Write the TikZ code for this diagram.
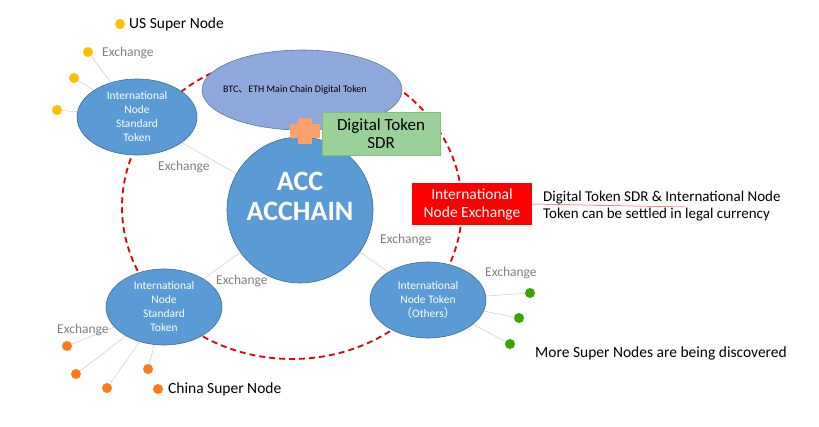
\documentclass[tikz,border=0pt]{standalone}
\usepackage{fontspec}
\setmainfont{Carlito}
\newfontfamily\cjk{Noto Sans CJK SC}
\begin{document}
\begin{tikzpicture}[x=1pt,y=-1pt,
  link/.style={draw=gray!40,line width=0.5pt},
  ex/.style={text=gray,font=\fontsize{13.5}{15}\selectfont,inner sep=0pt},
  wt/.style={text=white,align=center,font=\fontsize{11.5}{14}\selectfont},
  ydot/.style={circle,fill=orange!50!yellow,inner sep=0pt,minimum size=10pt},
  odot/.style={circle,fill=orange!85!red!90!white,inner sep=0pt,minimum size=10pt},
  gdot/.style={circle,fill=green!50!black!70!lime,inner sep=0pt,minimum size=10pt}]
\useasboundingbox[fill=white] (0,0) rectangle (819,426);
\definecolor{bl}{HTML}{5B9BD5}
\definecolor{pb}{HTML}{8EA9DB}
\tikzset{blob/.style={draw=bl!70!black,fill=bl,line width=0.6pt}}
% dashed circle
\draw[red!90!black,line width=1.8pt,dash pattern=on 6pt off 4pt] (292,207) ellipse[x radius=170,y radius=152];
% nodes
\coordinate (acc) at (300,210);
\coordinate (tl) at (137,117);
\coordinate (bl) at (164,307);
\coordinate (r) at (428,300);
\draw[link] (acc) -- (tl); \draw[link] (acc) -- (bl); \draw[link] (acc) -- (r);
\node[ydot] (y1) at (88,52) {}; \node[ydot] (y2) at (74,78) {}; \node[ydot] (y3) at (57,110) {};
\node[ydot] (y0) at (120,24) {};
\foreach \d in {y1,y2,y3} \draw[link] (\d) -- (tl);
\node[odot] (o1) at (67,346) {}; \node[odot] (o2) at (76,374) {}; \node[odot] (o3) at (107,388) {}; \node[odot] (o4) at (148,369) {}; \node[odot] (o5) at (158,389) {};
\foreach \d in {o1,o2,o3,o4} \draw[link] (\d) -- (bl);
\node[gdot] (g1) at (530,293) {}; \node[gdot] (g2) at (519,318) {}; \node[gdot] (g3) at (510,344) {};
\foreach \d in {g1,g2,g3} \draw[link] (\d) -- (r);
% ellipses
\draw[fill=pb,draw=pb!70!black,line width=0.6pt] (302,90) ellipse[x radius=100,y radius=40];
\node[font=\fontsize{10}{12}\selectfont] (btc) at (295,90) {BTC{\cjk 、}ETH Main Chain Digital Token};
\draw[blob] (acc) circle[radius=73];
\node[text=white,font=\bfseries\fontsize{28}{30}\selectfont,align=center] (acct) at (300,196) {ACC\\ACCHAIN};
\draw[blob] (tl) ellipse[x radius=60,y radius=38];
\node[wt] (tlt) at (tl) {International\\Node\\Standard\\Token};
\draw[blob] (bl) ellipse[x radius=58,y radius=38];
\node[wt] (blt) at (bl) {International\\Node\\Standard\\Token};
\draw[blob] (r) ellipse[x radius=58,y radius=38];
\node[wt] (rt) at (r) {International\\Node Token\\{\cjk （}Others{\cjk ）}};
% plus
\fill[orange!45!pink] (298,118) rectangle (312,144);
\fill[orange!45!pink] (290,124) rectangle (320,138);
% green box
\node[draw=green!50!black!50,fill=green!55!black!40!white,minimum width=118pt,minimum height=43pt,align=center,font=\fontsize{17}{18}\selectfont] (sdr) at (381,134) {Digital Token\\SDR};
% red box
\node[fill=red,text=white,minimum width=120pt,minimum height=42pt,align=center,inner sep=1pt,font=\fontsize{15.5}{18}\selectfont] (ine) at (472,204) {International\\Node Exchange};
\coordinate (ul) at (685,207);
\draw[red!70,line width=0.5pt] (ine.east) -- (ul);
\node[anchor=west,align=left,font=\fontsize{15}{17}\selectfont,inner sep=0pt] (note) at (543,206) {Digital Token SDR \& International Node\\Token can be settled in legal currency};
% labels
\node[anchor=west,font=\fontsize{15.5}{17}\selectfont,inner sep=0pt] (us) at (129,24) {US Super Node};
\node[anchor=west,font=\fontsize{15.5}{17}\selectfont,inner sep=0pt] (cn) at (168,389) {China Super Node};
\node[anchor=west,font=\fontsize{15.5}{17}\selectfont,inner sep=0pt] (more) at (535,353) {More Super Nodes are being discovered};
\node[ex,anchor=west] (e1) at (102,53) {Exchange};
\node[ex,anchor=west] (e2) at (158,167) {Exchange};
\node[ex,anchor=west] (e3) at (380,240) {Exchange};
\node[ex,anchor=west] (e4) at (216,281) {Exchange};
\node[ex,anchor=west] (e5) at (485,273) {Exchange};
\node[ex,anchor=west] (e6) at (57,330) {Exchange};
\end{tikzpicture}
\end{document}
